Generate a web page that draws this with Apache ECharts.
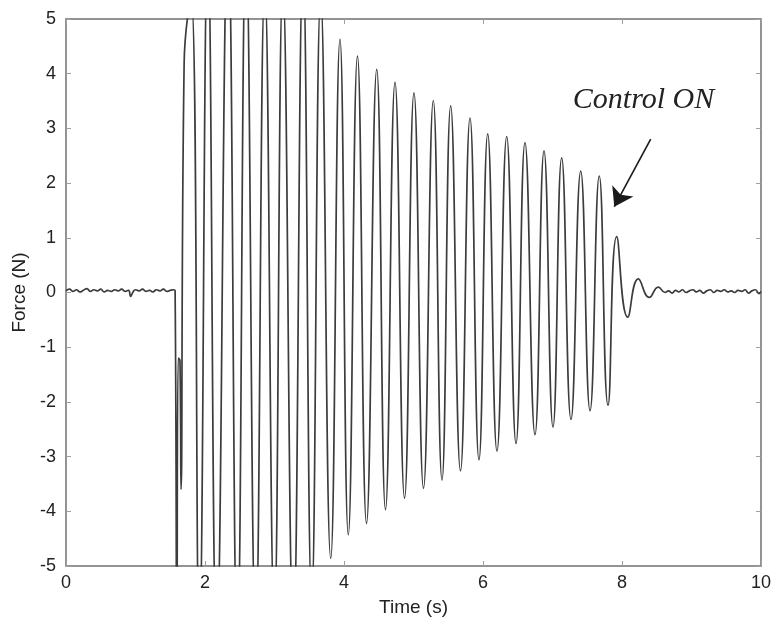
<!DOCTYPE html>
<html>
<head>
<meta charset="utf-8">
<title>Force response</title>
<script src="https://cdn.jsdelivr.net/npm/echarts@6/dist/echarts.min.js"></script>
<style>
  html, body { margin: 0; padding: 0; background: #fff; }
  #chart { width: 776px; height: 630px; }
</style>
</head>
<body>
<div id="chart"></div>
<script>
// Axis ticks
var xTicks = [0, 2, 4, 6, 8, 10];
var yTicks = [-5, -4, -3, -2, -1, 0, 1, 2, 3, 4, 5];

// Quiet signal before excitation (s, N)
var quietBeforeT = [0, 0.05, 0.1, 0.15, 0.2, 0.25, 0.3, 0.35, 0.4, 0.45, 0.5, 0.55, 0.6, 0.65, 0.7, 0.75, 0.8, 0.85, 0.9, 0.93, 0.96, 1.0, 1.05, 1.1, 1.15, 1.2, 1.25, 1.3, 1.35, 1.4, 1.45, 1.5, 1.55, 1.57];
var quietBeforeF = [0.03, 0.06, 0.02, 0.05, 0.01, 0.04, 0.07, 0.02, 0.05, 0.03, 0.06, 0.01, 0.04, 0.02, 0.05, 0.03, 0.06, 0.02, 0.04, -0.07, 0.00, 0.05, 0.03, 0.06, 0.02, 0.04, 0.01, 0.05, 0.03, 0.06, 0.02, 0.04, 0.05, 0.03];

// Onset transient
var onsetT = [1.595, 1.615, 1.64, 1.655, 1.70];
var onsetF = [-6.5, -1.2, -1.25, -3.6, 4.2];

// Oscillation peaks and troughs
var peakT = [1.80, 2.04, 2.33, 2.59, 2.86, 3.12, 3.41, 3.665, 3.942, 4.194, 4.471, 4.734, 5.007, 5.285, 5.535, 5.813, 6.068, 6.341, 6.604, 6.878, 7.132, 7.406, 7.673];
var peakF = [5.4, 6.3, 6.6, 6.3, 5.6, 5.6, 5.9, 5.4, 4.63, 4.32, 4.08, 3.84, 3.65, 3.51, 3.41, 3.19, 2.90, 2.85, 2.74, 2.59, 2.46, 2.22, 2.13];
var troughT = [1.918, 2.168, 2.465, 2.729, 2.997, 3.271, 3.535, 3.809, 4.062, 4.324, 4.597, 4.871, 5.144, 5.410, 5.676, 5.942, 6.201, 6.475, 6.748, 7.007, 7.266, 7.540, 7.799];
var troughF = [-6.2, -6.4, -6.4, -6.2, -5.9, -6.2, -5.6, -4.86, -4.43, -4.22, -3.97, -3.76, -3.58, -3.43, -3.26, -3.06, -2.90, -2.76, -2.60, -2.46, -2.32, -2.16, -2.06];

// Damped response once control is switched on
var settleT = [7.924, 8.082, 8.235, 8.393, 8.522];
var settleF = [1.02, -0.45, 0.25, -0.09, 0.10];

// Quiet signal after settling
var quietAfterT = [8.62, 8.67, 8.72, 8.77, 8.82, 8.87, 8.92, 8.97, 9.02, 9.07, 9.12, 9.17, 9.22, 9.27, 9.32, 9.37, 9.42, 9.47, 9.52, 9.57, 9.62, 9.67, 9.72, 9.77, 9.82, 9.87, 9.92, 9.97, 10.0];
var quietAfterF = [0.00, 0.03, -0.01, 0.04, 0.01, 0.05, 0.00, 0.03, 0.05, 0.01, 0.04, -0.01, 0.03, 0.05, 0.00, 0.04, 0.02, 0.05, 0.01, 0.03, 0.00, 0.04, 0.02, 0.05, -0.01, 0.03, 0.05, -0.02, 0.02];

// Annotation
var noteText = 'Control ON';
var notePos = [8.31, 3.52];
var arrowFrom = [8.413, 2.806];
var arrowTo = [7.889, 1.569];

function pairs(t, f) {
  var out = [];
  for (var i = 0; i < t.length; i++) out.push([t[i], f[i]]);
  return out;
}

var data = []
  .concat(pairs(quietBeforeT, quietBeforeF))
  .concat(pairs(onsetT, onsetF))
  .concat(pairs(peakT, peakF))
  .concat(pairs(troughT, troughF))
  .concat(pairs(settleT, settleF))
  .concat(pairs(quietAfterT, quietAfterF))
  .sort(function (a, b) { return a[0] - b[0]; });

var font = 'Liberation Sans, Arial, Helvetica, sans-serif';
var axisGray = '#8c8c8c';

function tickStyle() {
  return { show: true, inside: true, length: 5, lineStyle: { color: '#a0a0a0', width: 1 } };
}

function lineStyleAxis() {
  return { show: true, onZero: false, lineStyle: { color: axisGray, width: 1.5 } };
}

var chart = echarts.init(document.getElementById('chart'), null, { renderer: 'canvas' });

chart.setOption({
  animation: false,
  backgroundColor: '#ffffff',
  grid: {
    left: 66, top: 19, right: 15, bottom: 64,
    show: true, borderColor: axisGray, borderWidth: 1.5
  },
  xAxis: [{
    type: 'value', min: xTicks[0], max: xTicks[xTicks.length - 1], interval: 2,
    name: 'Time (s)', nameLocation: 'middle', nameGap: 32,
    nameTextStyle: { fontFamily: font, fontSize: 19, color: '#222' },
    axisLine: lineStyleAxis(),
    axisTick: tickStyle(),
    axisLabel: { fontFamily: font, fontSize: 18, color: '#222', margin: 8 },
    splitLine: { show: false }
  }, {
    type: 'value', position: 'top', min: xTicks[0], max: xTicks[xTicks.length - 1], interval: 2,
    axisLine: lineStyleAxis(),
    axisTick: tickStyle(),
    axisLabel: { show: false },
    splitLine: { show: false }
  }],
  yAxis: [{
    type: 'value', min: yTicks[0], max: yTicks[yTicks.length - 1], interval: 1,
    name: 'Force (N)', nameLocation: 'middle', nameGap: 32,
    nameTextStyle: { fontFamily: font, fontSize: 19, color: '#222' },
    axisLine: lineStyleAxis(),
    axisTick: tickStyle(),
    axisLabel: { fontFamily: font, fontSize: 18, color: '#222', margin: 10 },
    splitLine: { show: false }
  }, {
    type: 'value', position: 'right', min: yTicks[0], max: yTicks[yTicks.length - 1], interval: 1,
    axisLine: lineStyleAxis(),
    axisTick: tickStyle(),
    axisLabel: { show: false },
    splitLine: { show: false }
  }],
  series: [{
    type: 'line',
    data: data,
    xAxisIndex: 0,
    yAxisIndex: 0,
    smooth: 0.5,
    showSymbol: false,
    clip: true,
    lineStyle: { color: '#3c3c3c', width: 1.7 },
    markLine: {
      silent: true,
      symbol: ['none', 'arrow'],
      symbolSize: 18,
      label: { show: false },
      itemStyle: { color: '#1a1a1a' },
      lineStyle: { color: '#1a1a1a', width: 1.6, type: 'solid' },
      data: [[{ coord: arrowFrom }, { coord: arrowTo }]]
    },
    markPoint: {
      silent: true,
      symbol: 'circle',
      symbolSize: 1,
      itemStyle: { color: 'rgba(0,0,0,0)' },
      label: {
        show: true,
        position: 'inside',
        formatter: noteText,
        fontFamily: 'Liberation Serif, Times New Roman, serif',
        fontStyle: 'italic',
        fontSize: 30,
        color: '#222'
      },
      data: [{ coord: notePos }]
    }
  }]
});
</script>
</body>
</html>
